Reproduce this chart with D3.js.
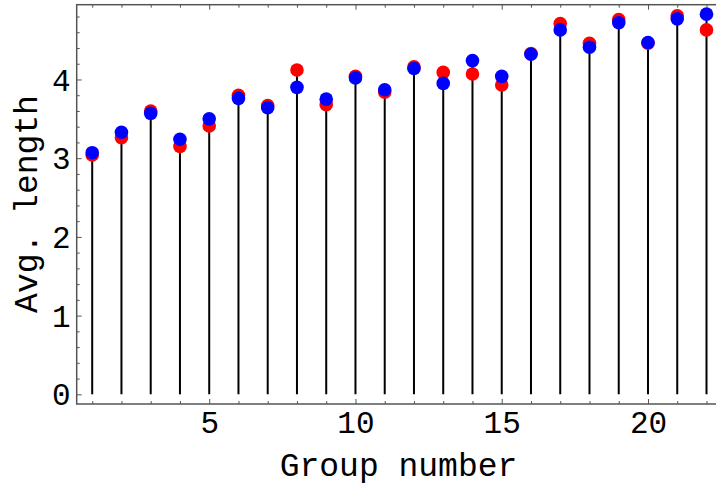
<!DOCTYPE html>
<html>
<head>
<meta charset="utf-8">
<script src="https://cdn.jsdelivr.net/npm/d3@7"></script>
<style>
  html, body { margin: 0; padding: 0; background: #fff; }
  svg { display: block; }
</style>
</head>
<body>
<svg id="chart" width="716" height="485"></svg>
<script>
const groups = [1,2,3,4,5,6,7,8,9,10,11,12,13,14,15,16,17,18,19,20,21,22];
const redValues  = [3.04,3.26,3.60,3.15,3.41,3.80,3.67,4.12,3.68,4.04,3.84,4.16,4.09,4.07,3.93,4.33,4.71,4.46,4.76,4.46,4.81,4.63];
const blueValues = [3.07,3.33,3.57,3.24,3.50,3.76,3.64,3.90,3.75,4.02,3.87,4.14,3.95,4.24,4.04,4.32,4.63,4.41,4.72,4.47,4.77,4.83];
const xMajorTicks = [5,10,15,20];
const yMajorTicks = [0,1,2,3,4];
const xLabel = "Group number";
const yLabel = "Avg. length";

(function () {
const svg = d3.select("#chart");
const pLeft = 76.7, pRight = 722, pTop = 4.7, pBottom = 404;
const x = d3.scaleLinear().domain([0.47, 22.53]).range([pLeft, pRight]);
const y = d3.scaleLinear().domain([-0.123, 4.95]).range([pBottom, pTop]);

const font = "'Liberation Mono', 'Courier New', monospace";
const frameColor = "#555";

const xMinor = d3.range(1, 23).filter(v => !xMajorTicks.includes(v));
const yMinor = d3.range(0, 4.95, 0.2).map(v => +v.toFixed(1)).filter(v => !yMajorTicks.includes(v));

// stems
const stems = svg.append("g");
groups.forEach((g, i) => {
  const hi = Math.max(redValues[i], blueValues[i]);
  stems.append("line")
    .attr("x1", x(g)).attr("x2", x(g))
    .attr("y1", y(0)).attr("y2", y(hi))
    .attr("stroke", "#000").attr("stroke-width", 2);
});

// points
svg.append("g").selectAll("circle").data(groups).join("circle")
  .attr("cx", d => x(d)).attr("cy", (d, i) => y(redValues[i]))
  .attr("r", 6.8).attr("fill", "#ff0000");
svg.append("g").selectAll("circle").data(groups).join("circle")
  .attr("cx", d => x(d)).attr("cy", (d, i) => y(blueValues[i]))
  .attr("r", 6.8).attr("fill", "#0000ff");

function styleAxis(g) {
  g.select(".domain").remove();
  g.selectAll(".tick line").attr("stroke", frameColor).attr("stroke-width", 1);
}

// bottom axis
const bMaj = svg.append("g").attr("transform", `translate(0,${pBottom})`)
  .call(d3.axisBottom(x).tickValues(xMajorTicks).tickSize(-5).tickFormat(d3.format("d")));
styleAxis(bMaj);
bMaj.selectAll("text").attr("y", 29).attr("dy", 0)
  .attr("font-family", font).attr("font-size", 31).attr("fill", "#000");
const bMin = svg.append("g").attr("transform", `translate(0,${pBottom})`)
  .call(d3.axisBottom(x).tickValues(xMinor).tickSize(-3).tickFormat(""));
styleAxis(bMin);

// top axis
const tMaj = svg.append("g").attr("transform", `translate(0,${pTop})`)
  .call(d3.axisTop(x).tickValues(xMajorTicks).tickSize(-5).tickFormat(""));
styleAxis(tMaj);
const tMin = svg.append("g").attr("transform", `translate(0,${pTop})`)
  .call(d3.axisTop(x).tickValues(xMinor).tickSize(-3).tickFormat(""));
styleAxis(tMin);

// left axis
const lMaj = svg.append("g").attr("transform", `translate(${pLeft},0)`)
  .call(d3.axisLeft(y).tickValues(yMajorTicks).tickSize(-5).tickFormat(d3.format("d")));
styleAxis(lMaj);
lMaj.selectAll("text").attr("x", -6).attr("dy", "0.34em")
  .attr("font-family", font).attr("font-size", 31).attr("fill", "#000");
const lMin = svg.append("g").attr("transform", `translate(${pLeft},0)`)
  .call(d3.axisLeft(y).tickValues(yMinor).tickSize(-3).tickFormat(""));
styleAxis(lMin);

// right axis (mostly clipped)
const rMaj = svg.append("g").attr("transform", `translate(${pRight},0)`)
  .call(d3.axisRight(y).tickValues(yMajorTicks).tickSize(-5).tickFormat(""));
styleAxis(rMaj);

// frame
svg.append("rect")
  .attr("x", pLeft).attr("y", pTop)
  .attr("width", pRight - pLeft).attr("height", pBottom - pTop)
  .attr("fill", "none").attr("stroke", frameColor).attr("stroke-width", 1.5);

// axis labels
svg.append("text")
  .attr("x", (279 + 518) / 2).attr("y", 476)
  .attr("text-anchor", "middle")
  .attr("font-family", font).attr("font-size", 33).attr("fill", "#000")
  .text(xLabel);
svg.append("text")
  .attr("transform", `translate(36.5,204) rotate(-90)`)
  .attr("text-anchor", "middle")
  .attr("font-family", font).attr("font-size", 33).attr("fill", "#000")
  .text(yLabel);
})();
</script>
</body>
</html>
